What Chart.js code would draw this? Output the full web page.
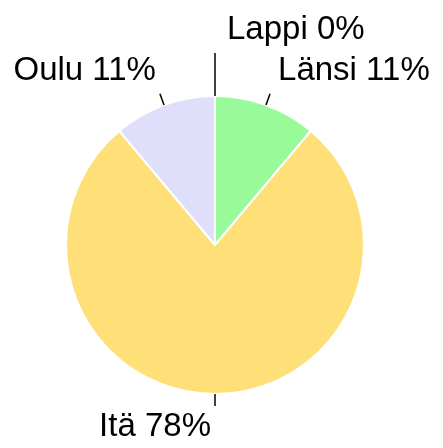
<!DOCTYPE html>
<html>
<head>
<meta charset="utf-8">
<script src="https://cdn.jsdelivr.net/npm/chart.js@4"></script>
<style>
  html, body { margin: 0; padding: 0; background: #fff; }
  #wrap { width: 443px; height: 448px; }
</style>
</head>
<body>
<div id="wrap"><canvas id="pieChart" width="443" height="448"></canvas></div>
<script>
// regions, clockwise from the top
const regions = ['Lappi', 'Länsi', 'Itä', 'Oulu'];
const counts = [0, 1, 7, 1];
const sliceColors = ['#c8c8c8', '#98fa98', '#ffdf78', '#dfdffc'];

const total = counts.reduce((a, b) => a + b, 0);

// outside labels with a short radial tick
const outsideLabels = {
  id: 'outsideLabels',
  afterDatasetsDraw(chart) {
    const ctx = chart.ctx;
    const arcs = chart.getDatasetMeta(0).data;
    ctx.save();
    ctx.font = '33px "Liberation Sans", Arial, sans-serif';
    ctx.fillStyle = '#000';
    ctx.strokeStyle = '#000';
    ctx.lineWidth = 1.5;
    arcs.forEach((arc, i) => {
      const mid = (arc.startAngle + arc.endAngle) / 2;
      const cos = Math.cos(mid), sin = Math.sin(mid);
      const r0 = arc.outerRadius;
      const zero = counts[i] === 0;
      const r1 = r0 + (zero ? 43 : 12);
      const x0 = arc.x + cos * r0, y0 = arc.y + sin * r0;
      const x1 = arc.x + cos * r1, y1 = arc.y + sin * r1;
      ctx.beginPath();
      ctx.moveTo(x0, y0);
      ctx.lineTo(x1, y1);
      ctx.stroke();

      const text = regions[i] + ' ' + Math.round(counts[i] / total * 100) + '%';
      const right = cos >= -0.001 && !(Math.abs(cos) < 0.01 && sin > 0);
      ctx.textAlign = right ? 'left' : 'right';
      ctx.textBaseline = 'alphabetic';
      const tx = x1 + (right ? (zero ? 12 : 8) : -4);
      const ty = sin < 0 ? y1 - 14 : y1 + 30;
      ctx.fillText(text, tx, ty);
    });
    ctx.restore();
  }
};

new Chart(document.getElementById('pieChart'), {
  type: 'pie',
  data: {
    labels: regions,
    datasets: [{
      data: counts,
      backgroundColor: sliceColors,
      borderColor: '#ffffff',
      borderWidth: 2
    }]
  },
  options: {
    responsive: false,
    animation: false,
    layout: { padding: { left: 65, right: 78, top: 94, bottom: 52 } },
    plugins: {
      legend: { display: false },
      tooltip: { enabled: false }
    }
  },
  plugins: [outsideLabels]
});
</script>
</body>
</html>
